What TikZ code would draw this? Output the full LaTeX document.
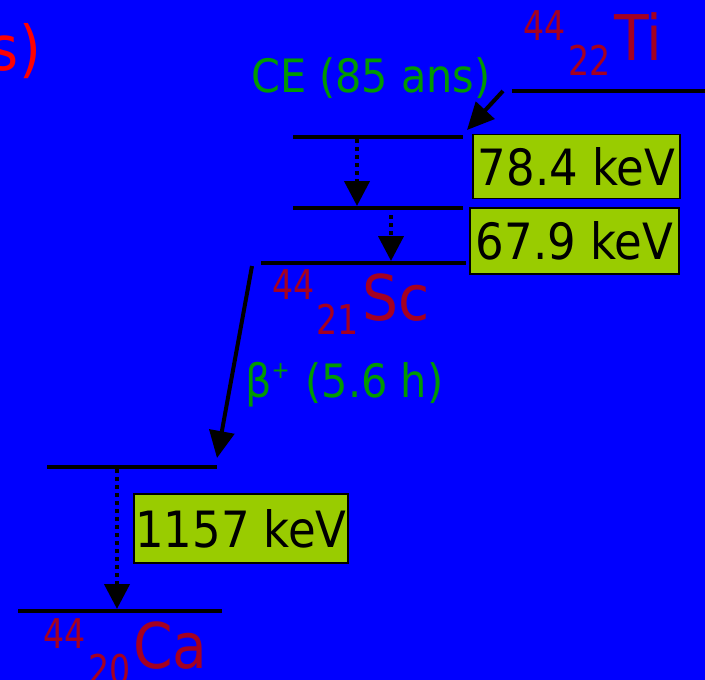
\documentclass[tikz,border=0pt]{standalone}
\usepackage{fontspec}
\setmainfont{DejaVu Sans Condensed}
\newfontfamily\nucfont[FakeStretch=0.9]{DejaVu Sans Condensed}
\usetikzlibrary{arrows.meta}
\definecolor{bg}{RGB}{0,0,255}
\definecolor{grn}{RGB}{0,153,0}
\definecolor{drk}{RGB}{165,0,33}
\definecolor{lime}{RGB}{153,204,0}
\definecolor{titred}{RGB}{255,0,0}
\begin{document}
\begin{tikzpicture}[x=1pt,y=-1pt,
  level/.style={line width=4.5pt},
  decay/.style={line width=4pt,-{Triangle[length=27pt,width=25pt]}},
  gammaarr/.style={line width=4.2pt,dash pattern=on 4pt off 4pt,-{Triangle[length=25pt,width=25pt]}},
  ebox/.style={draw=black,line width=1.8pt,fill=lime,inner sep=0pt,font=\fontsize{50}{50}\selectfont},
  lbl/.style={inner sep=0pt,anchor=base west},
  elem/.style={lbl,text=drk,font=\fontsize{63}{63}\selectfont},
  nuc/.style={lbl,text=drk,font=\nucfont\fontsize{41}{41}\selectfont},
  proc/.style={lbl,text=grn,font=\fontsize{46}{46}\selectfont}
]
\fill[bg] (0,0) rectangle (705,680);
\useasboundingbox (0,0) rectangle (705,680);

% title fragment
\node[inner sep=0pt,anchor=base east,text=titred,font=\fontsize{62}{62}\selectfont] (title) at (41,70) {s)};

% levels
\coordinate (tiA) at (512,91);  \coordinate (tiB) at (705,91);
\coordinate (l1A) at (293,137); \coordinate (l1B) at (463,137);
\coordinate (l2A) at (293,208); \coordinate (l2B) at (463,208);
\coordinate (scA) at (261,263); \coordinate (scB) at (466,263);
\coordinate (cxA) at (47,467);  \coordinate (cxB) at (217,467);
\coordinate (caA) at (18,611);  \coordinate (caB) at (222,611);
\draw[level] (tiA) -- (tiB);
\draw[level] (l1A) -- (l1B);
\draw[level] (l2A) -- (l2B);
\draw[level] (scA) -- (scB);
\draw[level] (cxA) -- (cxB);
\draw[level] (caA) -- (caB);

% arrows
\coordinate (ce0) at (503,91);  \coordinate (ce1) at (467,130);
\coordinate (g1a) at (357,139); \coordinate (g1b) at (357,206);
\coordinate (g2a) at (391,215); \coordinate (g2b) at (391,261);
\coordinate (b0) at (252,266);  \coordinate (b1) at (217,458);
\coordinate (g3a) at (117,469); \coordinate (g3b) at (117,609);
\draw[decay] (ce0) -- (ce1);
\draw[decay] (b0) -- (b1);
\draw[gammaarr] (g1a) -- (g1b);
\draw[gammaarr] (g2a) -- (g2b);
\draw[gammaarr] (g3a) -- (g3b);

% energy boxes
\node[ebox,minimum width=207pt,minimum height=64pt] (e1) at (576.5,166.5) {78.4 keV};
\node[ebox,minimum width=209pt,minimum height=66pt] (e2) at (574.5,241) {67.9 keV};
\node[ebox,minimum width=214pt,minimum height=69pt] (e3) at (241,528.5) {1157 keV};

% process labels
\node[proc] (ce) at (251,92) {CE (85 ans)};
\node[proc] (beta) at (245,397) {β\raisebox{19pt}{\fontsize{24}{24}\selectfont +}\hspace{3pt} (5.6 h)};

% nuclide labels
\node[nuc] (tiA44) at (523,41) {44};
\node[nuc] (tiZ) at (568,75) {22};
\node[elem] (ti) at (614,60) {Ti};
\node[nuc] (scA44) at (272,299) {44};
\node[nuc] (scZ) at (316,334) {21};
\node[elem] (sc) at (362,320) {Sc};
\node[nuc] (caA44) at (43,648) {44};
\node[nuc] (caZ) at (88,684) {20};
\node[elem] (ca) at (133,668) {Ca};
\end{tikzpicture}
\end{document}
